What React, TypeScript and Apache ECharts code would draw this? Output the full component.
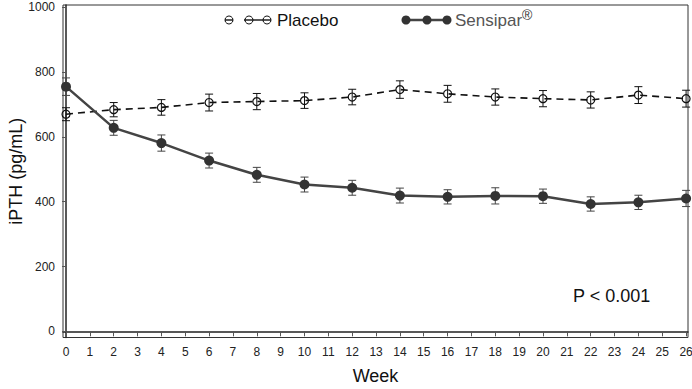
import React, { useEffect, useRef } from "react";
import * as echarts from "echarts";

const weeks = [0, 2, 4, 6, 8, 10, 12, 14, 16, 18, 20, 22, 24, 26];
const placebo = [670, 684, 691, 706, 709, 712, 723, 746, 733, 723, 718, 714, 729, 718];
const placeboErr = [20, 22, 24, 26, 25, 24, 24, 27, 26, 25, 25, 25, 26, 26];
const sensipar = [755, 628, 581, 527, 483, 453, 443, 419, 415, 418, 417, 393, 398, 410];
const sensiparErr = [27, 23, 25, 23, 23, 23, 23, 23, 22, 25, 22, 22, 22, 25];
const xTickLabels = [0, 1, 2, 3, 4, 5, 6, 7, 8, 9, 10, 11, 12, 13, 14, 15, 16, 17, 18, 19, 20, 21, 22, 23, 24, 25, 26];
const yTickLabels = [0, 200, 400, 600, 800, 1000];

const FONT = "'Liberation Sans', Arial, sans-serif";

function errorSeries(vals: number[], errs: number[], color: string) {
  return {
    type: "custom",
    silent: true,
    z: 1,
    data: weeks.map((w, i) => [w, vals[i] - errs[i], vals[i] + errs[i]]),
    encode: { x: 0, y: [1, 2] },
    renderItem: (params: any, api: any) => {
      const x = api.value(0);
      const lo = api.coord([x, api.value(1)]);
      const hi = api.coord([x, api.value(2)]);
      const w = 4;
      const st = { stroke: color, lineWidth: 1 };
      return {
        type: "group",
        children: [
          { type: "line", shape: { x1: lo[0], y1: lo[1], x2: hi[0], y2: hi[1] }, style: st },
          { type: "line", shape: { x1: lo[0] - w, y1: lo[1], x2: lo[0] + w, y2: lo[1] }, style: st },
          { type: "line", shape: { x1: hi[0] - w, y1: hi[1], x2: hi[0] + w, y2: hi[1] }, style: st },
        ],
      };
    },
  };
}

export default function App() {
  const ref = useRef<HTMLDivElement>(null);
  useEffect(() => {
    if (!ref.current) return;
    const chart = echarts.init(ref.current, undefined, { renderer: "svg" });
    chart.setOption({
      animation: false,
      backgroundColor: "#fff",
      textStyle: { fontFamily: FONT },
      grid: {
        left: 63,
        top: 5,
        right: 4,
        bottom: 51.5,
        show: true,
        borderColor: "#333",
        borderWidth: 1,
        containLabel: false,
        outerBoundsMode: "none",
      },
      xAxis: {
        type: "value",
        min: -0.126,
        max: 26.08,
        name: "Week",
        nameLocation: "middle",
        nameGap: 29,
        nameMoveOverlap: false,
        nameTextStyle: { fontSize: 18, color: "#111", fontFamily: FONT },
        axisLine: { show: true, lineStyle: { color: "#222", width: 1.5 } },
        axisTick: { show: true, customValues: xTickLabels, length: 5, lineStyle: { color: "#555" } },
        axisLabel: {
          customValues: xTickLabels,
          fontSize: 12,
          color: "#222",
          margin: 8,
          fontFamily: FONT,
          formatter: (v: number) => String(v),
        },
        splitLine: { show: false },
      },
      yAxis: {
        type: "value",
        min: -19,
        max: 1007,
        name: "iPTH (pg/mL)",
        nameLocation: "middle",
        nameGap: 38,
        nameRotate: 90,
        nameMoveOverlap: false,
        nameTextStyle: { fontSize: 18, color: "#111", fontFamily: FONT },
        axisLine: { show: true, lineStyle: { color: "#222", width: 1.5 } },
        axisTick: { show: true, customValues: yTickLabels, length: 4, lineStyle: { color: "#555" } },
        axisLabel: {
          customValues: yTickLabels,
          fontSize: 12,
          color: "#222",
          margin: 8,
          fontFamily: FONT,
          formatter: (v: number) => String(v),
        },
        splitLine: { show: false },
      },
      series: [
        errorSeries(placebo, placeboErr, "#111"),
        errorSeries(sensipar, sensiparErr, "#444"),
        {
          type: "line",
          name: "Placebo",
          z: 3,
          data: weeks.map((w, i) => [w, placebo[i]]),
          symbol: "circle",
          symbolSize: 8,
          itemStyle: { color: "rgba(0,0,0,0)", borderColor: "#111", borderWidth: 1.2 },
          lineStyle: { color: "#111", width: 1.6, type: [7, 5] },
          emphasis: { disabled: true },
        },
        {
          type: "line",
          name: "Sensipar",
          z: 4,
          data: weeks.map((w, i) => [w, sensipar[i]]),
          symbol: "circle",
          symbolSize: 10,
          itemStyle: { color: "#333", borderColor: "#333", borderWidth: 0 },
          lineStyle: { color: "#444", width: 2.5 },
          emphasis: { disabled: true },
        },
      ],
      graphic: [
        { type: "circle", shape: { cx: 229, cy: 20, r: 4 }, style: { fill: "none", stroke: "#111", lineWidth: 1 } },
        { type: "line", shape: { x1: 225, y1: 20, x2: 233, y2: 20 }, style: { stroke: "#111", lineWidth: 1.4 } },
        { type: "circle", shape: { cx: 249, cy: 20, r: 4 }, style: { fill: "none", stroke: "#111", lineWidth: 1 } },
        { type: "circle", shape: { cx: 267, cy: 20, r: 4 }, style: { fill: "none", stroke: "#111", lineWidth: 1 } },
        { type: "line", shape: { x1: 244, y1: 20, x2: 271, y2: 20 }, style: { stroke: "#111", lineWidth: 1.4 } },
        {
          type: "text",
          x: 277,
          y: 20,
          style: { text: "Placebo", fontSize: 17, fill: "#111", fontFamily: FONT, verticalAlign: "middle", align: "left" },
        },
        { type: "line", shape: { x1: 402, y1: 20, x2: 450, y2: 20 }, style: { stroke: "#444", lineWidth: 2.5 } },
        { type: "circle", shape: { cx: 406, cy: 20, r: 4.5 }, style: { fill: "#333" } },
        { type: "circle", shape: { cx: 427, cy: 20, r: 4.5 }, style: { fill: "#333" } },
        { type: "circle", shape: { cx: 447, cy: 20, r: 4.5 }, style: { fill: "#333" } },
        {
          type: "text",
          x: 455,
          y: 20,
          style: { text: "Sensipar", fontSize: 17, fill: "#555", fontFamily: FONT, verticalAlign: "middle", align: "left" },
        },
        {
          type: "text",
          x: 522,
          y: 15,
          style: { text: "®", fontSize: 14, fill: "#333", fontFamily: FONT, verticalAlign: "middle", align: "left" },
        },
        {
          type: "text",
          x: 573,
          y: 296,
          style: { text: "P < 0.001", fontSize: 18, fill: "#111", fontFamily: FONT, verticalAlign: "middle", align: "left" },
        },
      ],
    });
    return () => chart.dispose();
  }, []);
  return (
    <div
      ref={ref}
      style={{ position: "fixed", left: 0, top: 0, width: 692, height: 389 }}
    />
  );
}
